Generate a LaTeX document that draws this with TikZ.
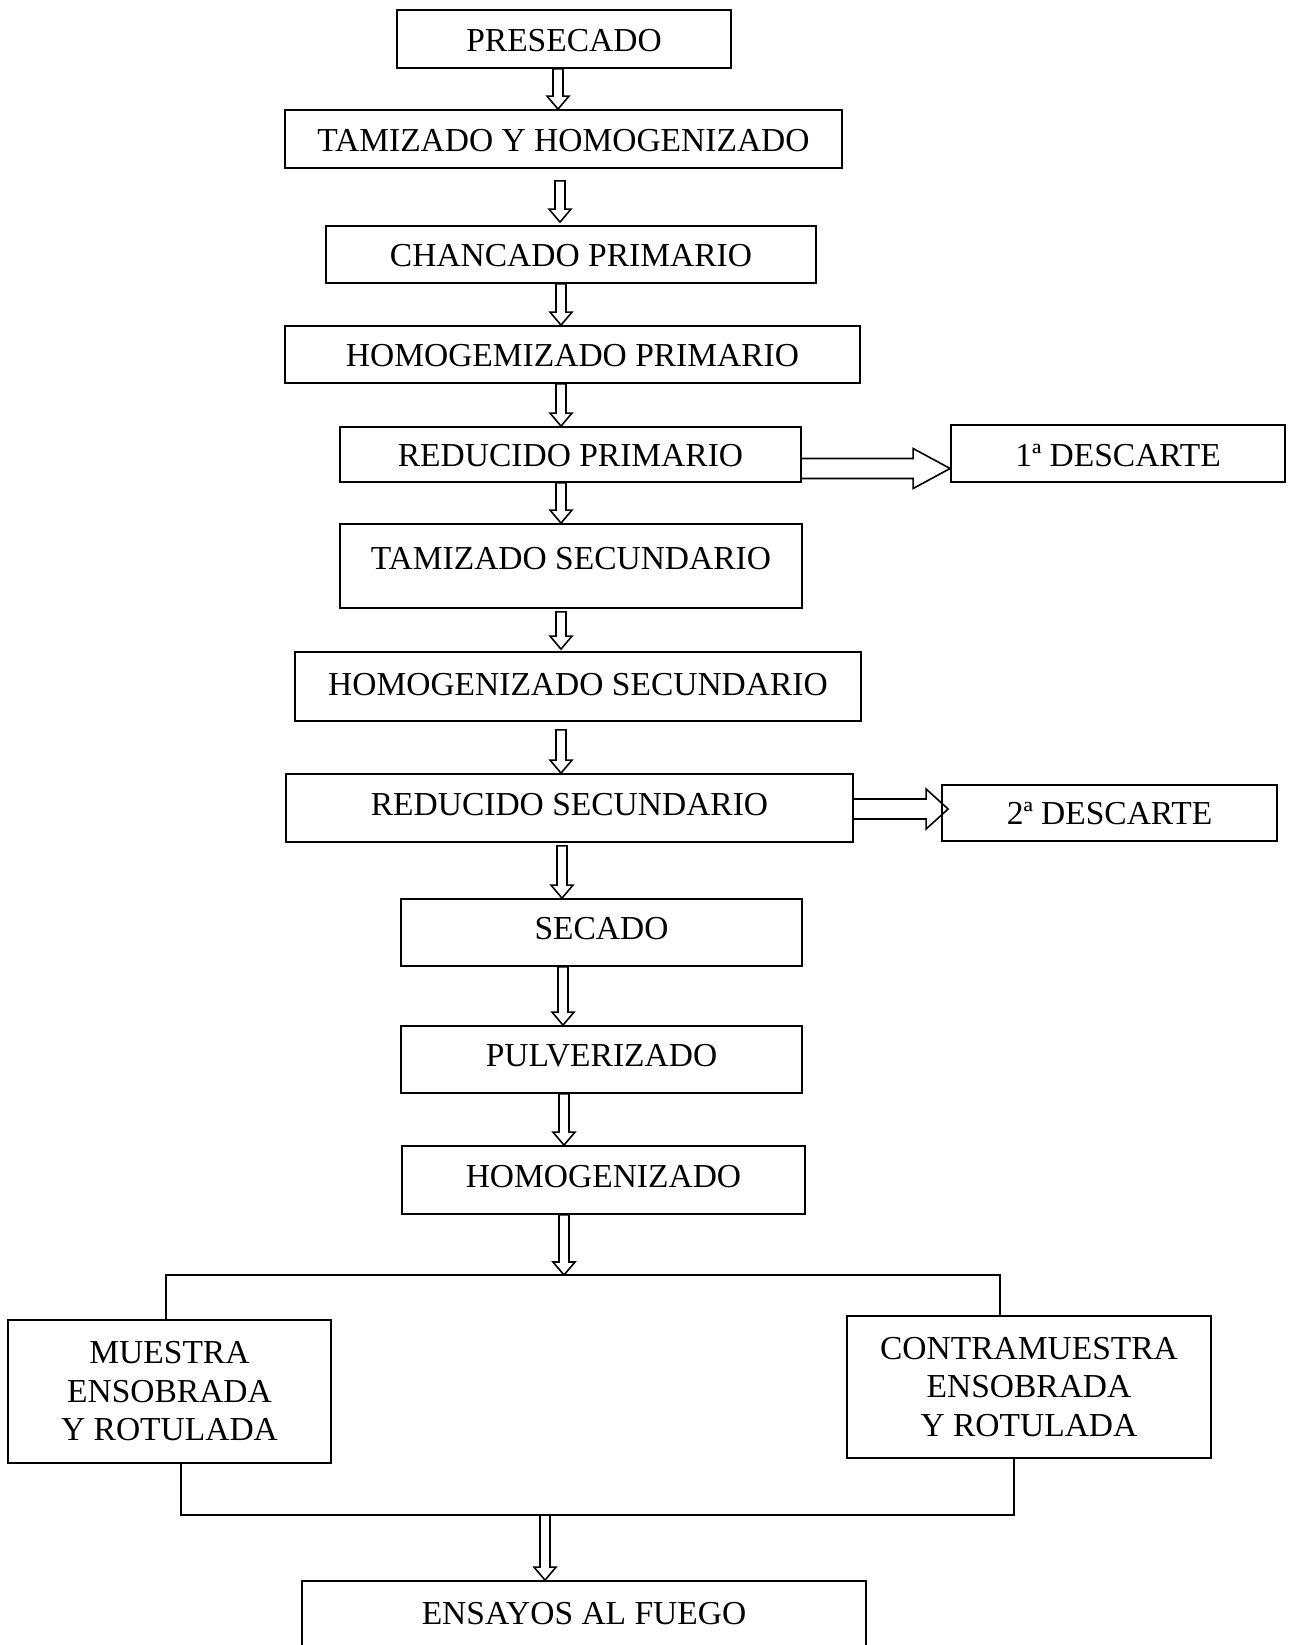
\documentclass[tikz,border=0pt]{standalone}
\usepackage{fontspec}
\setmainfont{Liberation Serif}
\usetikzlibrary{calc}
\newcommand\rz[2]{\raisebox{#1}[\height][\depth]{#2}}
\begin{document}
\begin{tikzpicture}[x=1pt,y=-1pt,
  box/.style={draw=black, line width=1.8pt, inner sep=0pt, align=center,
    font=\fontsize{33.5}{38.5}\selectfont},
  sz/.style 2 args={minimum width=#1pt, minimum height=#2pt},
  conn/.style={draw=black, line width=1.6pt},
  varrow/.style={conn, line join=miter, to path={let \p1=(\tikztostart), \p2=(\tikztotarget) in
    (\x1-5pt,\y1) -- (\x1-5pt,\y2+13pt) -- (\x1-11pt,\y2+13pt) -- (\x1,\y2)
    -- (\x1+11pt,\y2+13pt) -- (\x1+5pt,\y2+13pt) -- (\x1+5pt,\y1) -- cycle}},
  harrow/.style={conn, line join=miter, to path={let \p1=(\tikztostart), \p2=(\tikztotarget) in
    (\x1,\y1+10pt) -- (\x2-#1,\y1+10pt) -- (\x2-#1,\y1+20pt) -- (\x2,\y1)
    -- (\x2-#1,\y1-20pt) -- (\x2-#1,\y1-10pt) -- (\x1,\y1-10pt)}}
]
\useasboundingbox (0,0) rectangle (1292,1645);
\clip (0,0) rectangle (1292,1645);

\node[box, sz={334}{58}] (pre) at (564,39) {\rz{-2pt}{PRESECADO}};
\node[box, sz={557}{58}] (tam) at (563.5,139) {\rz{-2pt}{TAMIZADO Y HOMOGENIZADO}};
\node[box, sz={490}{57}] (cha) at (571,254.5) {\rz{-1pt}{CHANCADO PRIMARIO}};
\node[box, sz={575}{57}] (hop) at (572.5,354.5) {\rz{-1pt}{HOMOGEMIZADO PRIMARIO}};
\node[box, sz={461}{55}] (rp) at (570.5,454.5) {\rz{-1pt}{REDUCIDO PRIMARIO}};
\node[box, sz={334}{57}] (d1) at (1118,453.5) {\rz{-2.5pt}{1ª DESCARTE}};
\node[box, sz={462}{84}] (ts) at (571,566) {\rz{7pt}{TAMIZADO SECUNDARIO}};
\node[box, sz={566}{69}] (hs) at (578,686.5) {\rz{2pt}{HOMOGENIZADO SECUNDARIO}};
\node[box, sz={567}{68}] (rs) at (569.5,808) {\rz{3pt}{REDUCIDO SECUNDARIO}};
\node[box, sz={335}{56}] (d2) at (1109.5,813) {\rz{-1pt}{2ª DESCARTE}};
\node[box, sz={401}{67}] (sec) at (601.5,932.5) {\rz{4pt}{SECADO}};
\node[box, sz={401}{67}] (pul) at (601.5,1059.5) {\rz{4pt}{PULVERIZADO}};
\node[box, sz={403}{68}] (hom) at (603.5,1180) {\rz{3pt}{HOMOGENIZADO}};
\node[box, sz={323}{143}] (mu) at (169.5,1391.5) {MUESTRA\\ENSOBRADA\\Y ROTULADA};
\node[box, sz={364}{142}] (co) at (1029,1387) {CONTRAMUESTRA\\ENSOBRADA\\Y ROTULADA};
\node[box, sz={564}{80}] (ens) at (584,1621) {\rz{7pt}{ENSAYOS AL FUEGO}};

\coordinate (bt) at (564,1275);
\coordinate (bb) at (545,1515);

\draw[varrow] ([xshift=-6pt]pre.south) to (tam.north);
\draw[varrow] ([xshift=-3.5pt,yshift=-12pt]tam.south) to ([yshift=3pt]cha.north);
\draw[varrow] ([xshift=-10pt]cha.south) to (hop.north);
\draw[varrow] ([xshift=-11.5pt]hop.south) to (rp.north);
\draw[varrow] ([xshift=-9.5pt]rp.south) to (ts.north);
\draw[varrow] ([xshift=-10pt,yshift=-3pt]ts.south) to ([yshift=2pt]hs.north);
\draw[varrow] ([xshift=-17pt,yshift=-8pt]hs.south) to (rs.north);
\draw[varrow] ([xshift=-7.5pt,yshift=-3pt]rs.south) to (sec.north);
\draw[varrow] ([xshift=-38.5pt]sec.south) to (pul.north);
\draw[varrow] ([xshift=-37.5pt]pul.south) to (hom.north);
\draw[varrow] ([xshift=-39.5pt]hom.south) to (bt);
\draw[varrow] (bb) to (ens.north);

\draw[harrow=37pt] ([yshift=-14pt]rp.east) to (d1.west);
\draw[harrow=22pt] ([yshift=-1pt]rs.east) to ([xshift=7pt]d2.west);

\draw[conn] ([xshift=-3.5pt]mu.north) |- (bt) -| ([xshift=-29pt]co.north);
\draw[conn] ([xshift=11.5pt]mu.south) |- (bb) -| ([xshift=-15pt]co.south);
\end{tikzpicture}
\end{document}
